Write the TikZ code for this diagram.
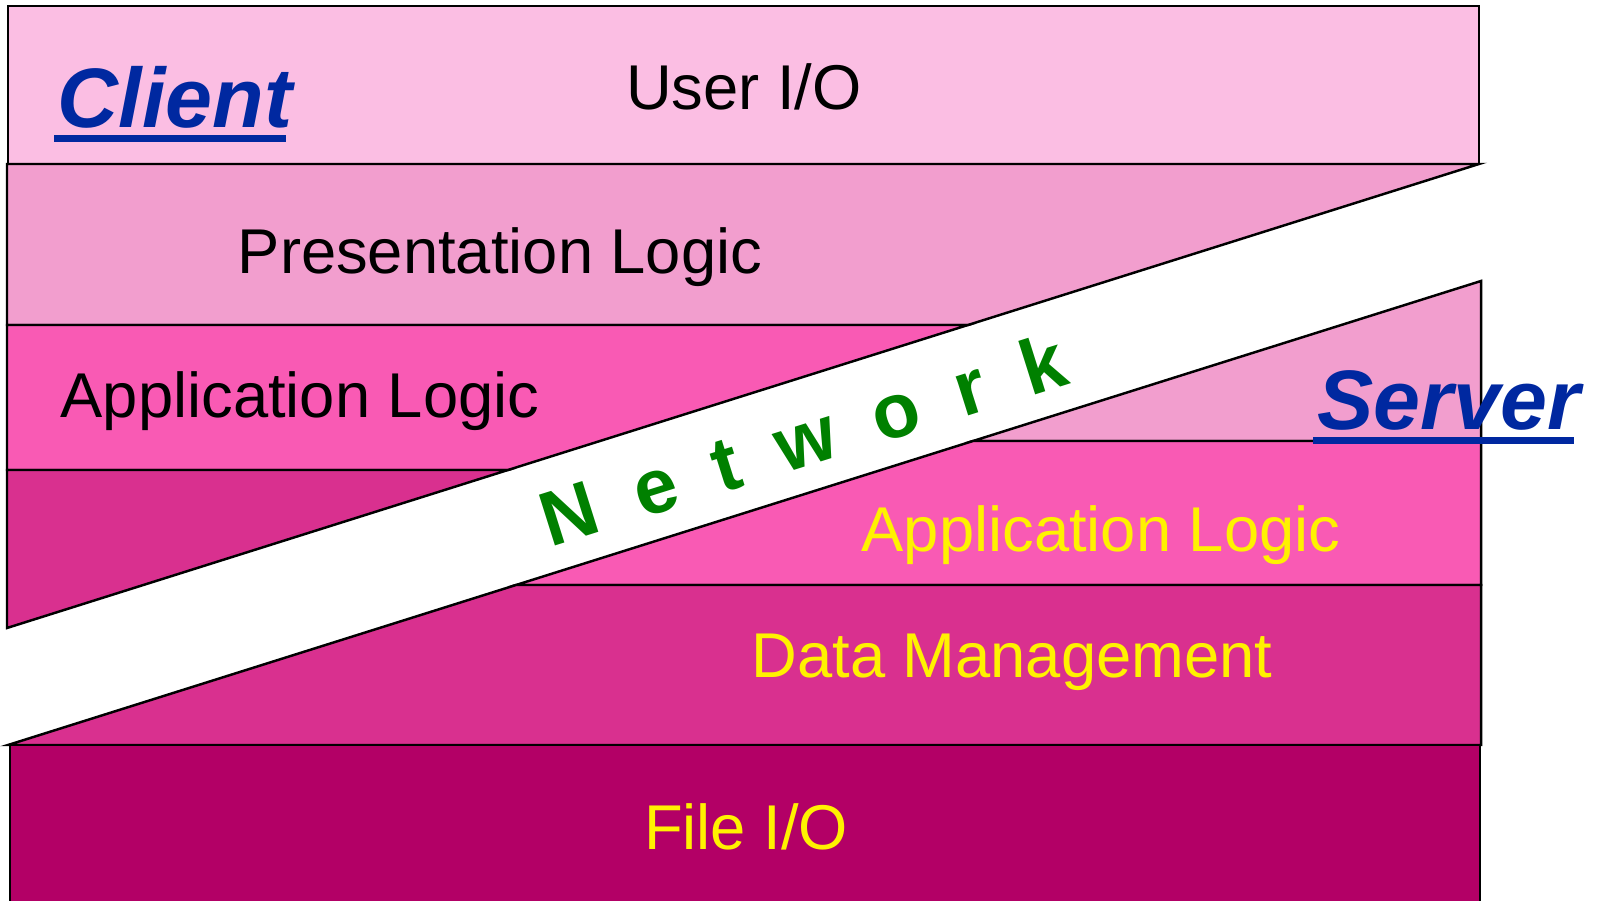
\documentclass[tikz,border=0pt]{standalone}
\usepackage{fontspec}
\setmainfont{Liberation Sans}
\definecolor{userio}{RGB}{251,190,227}
\definecolor{present}{RGB}{242,158,206}
\definecolor{applogic}{RGB}{249,90,180}
\definecolor{datamgmt}{RGB}{217,48,143}
\definecolor{fileio}{RGB}{179,0,102}
\definecolor{tierblue}{RGB}{0,40,160}
\definecolor{netgreen}{RGB}{0,128,0}
\tikzset{
  layer/.style={draw=black, line width=0.7pt, line join=miter},
  layertext/.style={anchor=base, inner sep=0pt, font=\fontsize{18}{22}\selectfont},
  tiername/.style={anchor=base, inner sep=0pt, text=tierblue, font=\fontsize{24}{28}\selectfont\bfseries\itshape},
}
\begin{document}
\begin{tikzpicture}[x=0.01cm, y=-0.01cm]
    \useasboundingbox (0,0) rectangle (1604,901);

    % band edges
    \coordinate (u0) at (1479,164);
    \coordinate (u1) at (968,325);
    \coordinate (u2) at (508,470);
    \coordinate (u3) at (7,628);
    \coordinate (l0) at (1481,281);
    \coordinate (l1) at (973,441);
    \coordinate (l2) at (516,585);
    \coordinate (l3) at (8,745);

    % Client
    \draw[layer, fill=userio] (8,6) rectangle (1479,164);
    \draw[layer, fill=present] (7,164) -- (u0) -- (u1) -- (7,325) -- cycle;
    \draw[layer, fill=applogic] (7,325) -- (u1) -- (u2) -- (7,470) -- cycle;
    \draw[layer, fill=datamgmt] (7,470) -- (u2) -- (u3) -- cycle;

    % Server
    \draw[layer, fill=present] (l1) -- (l0) -- (1481,441) -- cycle;
    \draw[layer, fill=applogic] (l2) -- (l1) -- (1481,441) -- (1481,585) -- cycle;
    \draw[layer, fill=datamgmt] (l3) -- (l2) -- (1481,585) -- (1481,745) -- cycle;
    \draw[layer, fill=fileio] (10,745) rectangle (1480,915);

    % Labels
    \node[layertext] (userio) at (744,110) {User I/O};
    \node[layertext] (present) at (500,274) {Presentation Logic};
    \node[layertext] (appclient) at (300,418) {Application Logic};
    \node[layertext, text=yellow] (appserver) at (1101,552) {Application Logic};
    \node[layertext, text=yellow] (datamgmt) at (1012,678) {Data Management};
    \node[layertext, text=yellow] (fileio) at (746,849) {File I/O};

    % Client / Server
    \node[tiername] (client) at (175,128) {Client};
    \fill[tierblue] ([xshift=-1pt, yshift=-2pt]client.base west) rectangle ([xshift=-2pt, yshift=-4pt]client.base east);
    \node[tiername] (server) at (1449,430) {Server};
    \fill[tierblue] ([xshift=-1pt, yshift=-2pt]server.base west) rectangle ([xshift=-2pt, yshift=-4pt]server.base east);

    % Network
    \node[rotate=17.5, text=netgreen, font=\fontsize{22}{26}\selectfont\bfseries\addfontfeature{LetterSpace=52}] (network) at (803,439) {Network};
\end{tikzpicture}
\end{document}
